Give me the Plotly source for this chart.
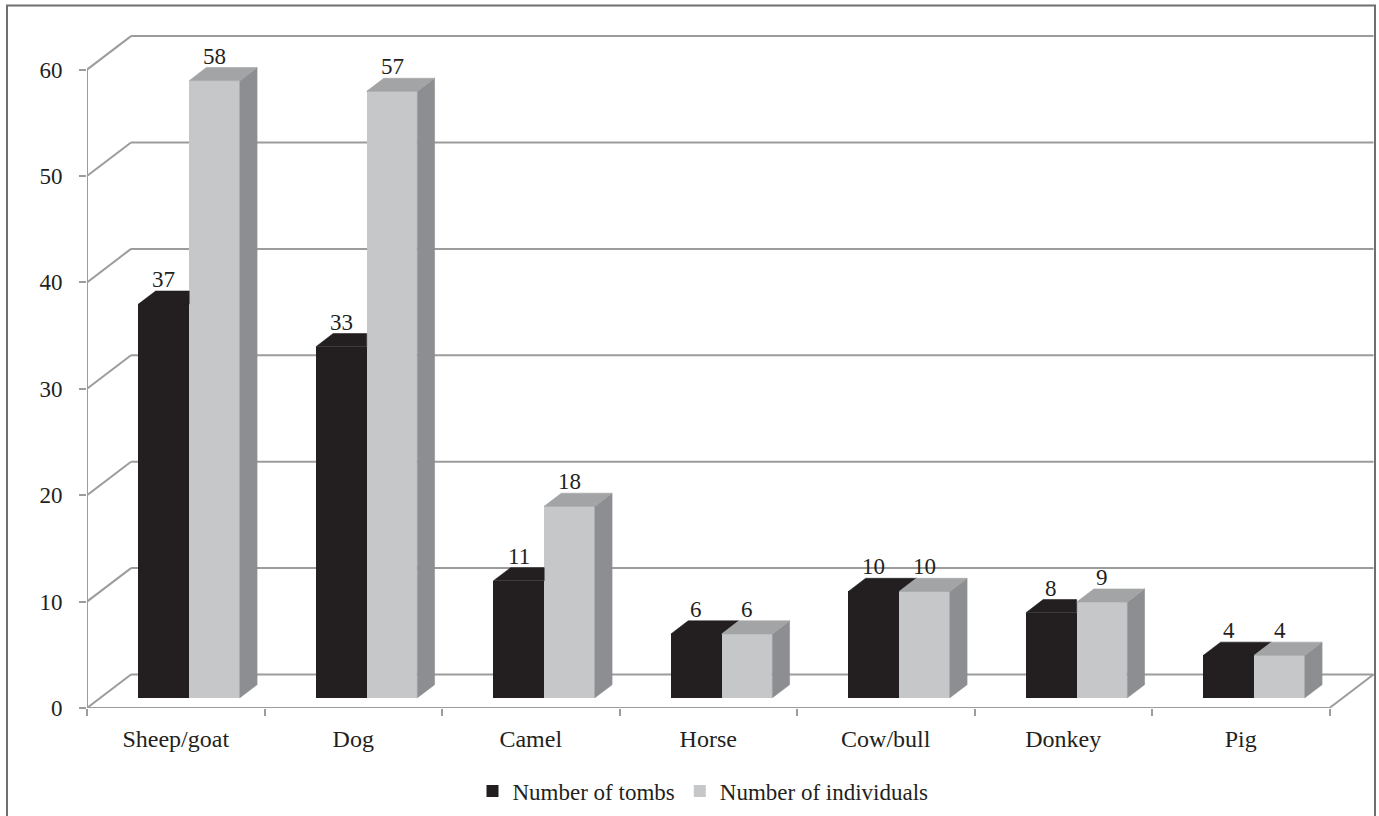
import plotly.graph_objects as go

# ---- data -------------------------------------------------------------
categories = ["Sheep/goat", "Dog", "Camel", "Horse", "Cow/bull", "Donkey", "Pig"]
tombs = [37, 33, 11, 6, 10, 8, 4]
individuals = [58, 57, 18, 6, 10, 9, 4]
y_ticks = [0, 10, 20, 30, 40, 50, 60]

# ---- geometry / style -------------------------------------------------
W, H = 1379, 816
M_L, M_R, M_T, M_B = 87, 4, 34, 108
PLOT_W = W - M_L - M_R
PLOT_H = H - M_T - M_B
X_MAX = PLOT_W / 177.5          # one category = 177.5 px
Y_MAX = PLOT_H / 10.64         # one value unit = 10.64 px

# oblique depth of the 3-D box, in data units
DEPTH_X = 0.248
DEPTH_Y = 3.15
FRONT = 0.305                  # where the bar slab starts inside the depth
SLAB = 0.39                    # thickness of the bar slab
BAR_W = 1 / 3.5                # bar width (gap width 150 %)

DX0, DY0 = FRONT * DEPTH_X, FRONT * DEPTH_Y
BDX, BDY = SLAB * DEPTH_X, SLAB * DEPTH_Y

BLACK = "#231f20"
LIGHT = "#c6c7c9"
LIGHT_TOP = "#a3a4a6"
LIGHT_SIDE = "#8d8e91"
GRID = "#9c9c9c"
TEXT = "#231f20"
FONT = "Liberation Serif"
FS = 23

n = len(categories)
x_t = [i + 0.5 + DX0 - BAR_W / 2 for i in range(n)]
x_i = [i + 0.5 + DX0 + BAR_W / 2 for i in range(n)]

fig = go.Figure()

# front faces
fig.add_trace(go.Bar(x=x_t, y=tombs, base=DY0, width=BAR_W, name="Number of tombs",
                     marker=dict(color=BLACK, line=dict(width=0))))
fig.add_trace(go.Bar(x=x_i, y=individuals, base=DY0, width=BAR_W, name="Number of individuals",
                     marker=dict(color=LIGHT, line=dict(width=0))))


def faces(kind):
    xs, ys = [], []
    for i in range(n):
        if kind == "tomb_top":
            xl, xr = x_t[i] - BAR_W / 2, x_t[i] + BAR_W / 2
            t = DY0 + tombs[i]
            tg = DY0 + individuals[i]
            if tg > t:
                px = [xl, xr, xr, xl + BDX, xl]
                py = [t, t, t + BDY, t + BDY, t]
            else:
                px = [xl, xr, xr + BDX, xl + BDX, xl]
                py = [t, t, t + BDY, t + BDY, t]
        elif kind == "ind_top":
            xl, xr = x_i[i] - BAR_W / 2, x_i[i] + BAR_W / 2
            t = DY0 + individuals[i]
            px = [xl, xr, xr + BDX, xl + BDX, xl]
            py = [t, t, t + BDY, t + BDY, t]
        else:  # ind_side
            xr = x_i[i] + BAR_W / 2
            t = DY0 + individuals[i]
            px = [xr, xr + BDX, xr + BDX, xr, xr]
            py = [DY0, DY0 + BDY, t + BDY, t, DY0]
        xs += px + [None]
        ys += py + [None]
    return xs, ys


for kind, col in [("tomb_top", BLACK), ("ind_side", LIGHT_SIDE), ("ind_top", LIGHT_TOP)]:
    fx, fy = faces(kind)
    fig.add_trace(go.Scatter(x=fx, y=fy, mode="lines", fill="toself", fillcolor=col,
                             line=dict(width=0.6, color=col), hoverinfo="skip",
                             showlegend=False))

# value labels
annotations = []
for xs, vals in [(x_t, tombs), (x_i, individuals)]:
    for x, v in zip(xs, vals):
        annotations.append(dict(x=x, y=DY0 + v + BDY, text=str(v), showarrow=False,
                                xanchor="center", yanchor="bottom", yshift=-3,
                                font=dict(family=FONT, size=FS, color=TEXT)))

# walls, floor and axis lines of the 3-D box
shapes = []
line = dict(color=GRID, width=2)
for v in y_ticks:
    shapes.append(dict(type="line", xref="x", yref="y", x0=0, y0=v, x1=DEPTH_X, y1=v + DEPTH_Y,
                       line=line, layer="below"))
    shapes.append(dict(type="line", xref="x", yref="y", x0=DEPTH_X, y0=v + DEPTH_Y,
                       x1=n + DEPTH_X, y1=v + DEPTH_Y, line=line, layer="below"))
shapes.append(dict(type="line", xref="x", yref="y", x0=0, y0=0, x1=n, y1=0, line=line, layer="below"))
shapes.append(dict(type="line", xref="x", yref="y", x0=n, y0=0, x1=n + DEPTH_X, y1=DEPTH_Y,
                   line=line, layer="below"))
shapes.append(dict(type="line", xref="x", yref="y", x0=0, y0=0, x1=0, y1=y_ticks[-1],
                   line=line, layer="below"))

# outer chart frame
shapes.append(dict(type="rect", xref="paper", yref="paper",
                   x0=(7 - M_L) / PLOT_W, x1=(1375 - M_L) / PLOT_W,
                   y0=-(H + 20 - (H - M_B)) / PLOT_H, y1=((H - M_B) - 5.5) / PLOT_H,
                   line=dict(color="#6f6f6f", width=2), fillcolor="rgba(0,0,0,0)", layer="above"))

fig.update_layout(
    width=W, height=H,
    margin=dict(l=M_L, r=M_R, t=M_T, b=M_B),
    paper_bgcolor="white", plot_bgcolor="white",
    barmode="overlay", bargap=0,
    font=dict(family=FONT, size=FS, color=TEXT),
    shapes=shapes, annotations=annotations,
    showlegend=True,
    legend=dict(orientation="h", x=(703 - M_L) / PLOT_W, xanchor="center",
                y=-(791 - (H - M_B)) / PLOT_H, yanchor="middle",
                font=dict(family=FONT, size=FS, color=TEXT), bgcolor="rgba(0,0,0,0)"),
    xaxis=dict(range=[0, X_MAX], tickmode="array", tickvals=[i + 0.5 for i in range(n)],
               ticktext=categories, ticks="", showgrid=False, zeroline=False, showline=False,
               tickfont=dict(family=FONT, size=24, color=TEXT), ticklabelstandoff=14,
               minor=dict(tickmode="array", tickvals=list(range(n + 1)), ticks="outside",
                          ticklen=7, tickwidth=2, tickcolor=GRID, showgrid=False),
               fixedrange=True),
    yaxis=dict(range=[0, Y_MAX], tickmode="array", tickvals=y_ticks, ticks="outside",
               ticklen=7, tickwidth=2, tickcolor=GRID, showgrid=False, zeroline=False,
               showline=False, tickfont=dict(family=FONT, size=FS, color=TEXT),
               ticklabelstandoff=12, fixedrange=True),
)

fig.write_html("out.html")
